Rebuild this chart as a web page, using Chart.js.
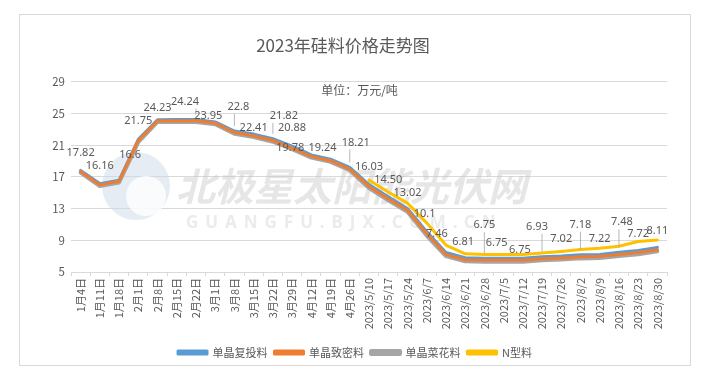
<!DOCTYPE html>
<html><head><meta charset="utf-8">
<script src="https://cdn.jsdelivr.net/npm/chart.js@4.4.0/dist/chart.umd.min.js"></script>
<style>
html,body{margin:0;padding:0;background:#fff;}
#wrap{position:relative;width:719px;height:381px;overflow:hidden;}
#frame{position:absolute;left:19px;top:14px;width:670px;height:350px;border:1px solid #d9d9d9;}
canvas{position:absolute;left:0;top:0;}
</style></head><body>
<div id="wrap"><div id="frame"></div><canvas id="c" width="719" height="381"></canvas></div>
<script>
// ---- data ----
const categories = ['1月4日','1月11日','1月18日','2月1日','2月8日','2月15日','2月22日','3月1日','3月8日','3月15日','3月22日','3月29日','4月12日','4月19日','4月26日','2023/5/10','2023/5/17','2023/5/24','2023/6/7','2023/6/14','2023/6/21','2023/6/28','2023/7/5','2023/7/12','2023/7/19','2023/7/26','2023/8/2','2023/8/9','2023/8/16','2023/8/23','2023/8/30'];
const fuTou  = [17.82,16.16,16.6,21.75,24.23,24.25,24.24,23.95,22.8,22.41,21.82,20.88,19.78,19.24,18.21,16.03,14.50,13.02,10.1,7.46,6.81,6.75,6.75,6.75,6.93,7.02,7.18,7.22,7.48,7.72,8.11];
const zhiMi  = [17.7,16.0,16.45,21.6,24.1,24.1,24.1,23.8,22.6,22.2,21.6,20.65,19.6,19.05,18.0,15.8,14.25,12.8,9.85,7.2,6.55,6.5,6.5,6.5,6.68,6.78,6.93,6.98,7.22,7.45,7.82];
const caiHua = [17.55,15.85,16.3,21.4,23.95,23.95,23.95,23.65,22.45,22.05,21.45,20.5,19.45,18.9,17.85,15.6,14.05,12.6,9.6,7.0,6.35,6.3,6.3,6.3,6.48,6.58,6.72,6.78,7.02,7.25,7.62];
const nType  = [null,null,null,null,null,null,null,null,null,null,null,null,null,null,null,16.6,15.1,13.7,11.2,8.4,7.3,7.2,7.2,7.2,7.4,7.6,7.85,8.0,8.25,8.85,9.05];
const fuTouLabels = ['17.82','16.16','16.6','21.75','24.23',null,'24.24','23.95','22.8','22.41','21.82','20.88','19.78','19.24','18.21','16.03','14.50','13.02','10.1','7.46','6.81','6.75','6.75','6.75','6.93','7.02','7.18','7.22','7.48','7.72','8.11'];
const seriesNames = ['单晶复投料','单晶致密料','单晶菜花料','N型料'];
const yMin = 5, yMax = 29, yStep = 2;
const titleText = '2023年硅料价格走势图';
const unitText = '单位：万元/吨';

// ---- label placement (offsets from point, px) ----
const labelOffsets = [[0,-18],[0,-18],[11,-25],[0,-18],[0,-12],null,[-11,-18],[-7,-6],[4,-24],[0,-6],[11,-23],[0,-18],[-21,-7],[-8,-11],[6,-25],[0,-18],[0,-17],[0,-16],[-2,-18],[-9,-19],[-2,-16],[0,-33],[-7,-15],[-3,-8],[-5,-30],[0,-17],[0,-30],[0,-16],[3,-30],[0,-17],[0,-17]];
const leaderIdx = [6,8,10,14,21,24,26,28];

const TXT = '#595959';
const FONT = "'Noto Sans CJK SC','Noto Sans',sans-serif";

const watermark = {
  id:'watermark',
  beforeDatasetsDraw(chart){
    const ctx = chart.ctx; ctx.save();
    ctx.fillStyle = 'rgba(205,218,232,0.5)';
    ctx.beginPath(); ctx.arc(136,186,34,0,Math.PI*2); ctx.fill();
    ctx.fillStyle = 'rgba(255,255,255,0.8)';
    ctx.beginPath(); ctx.arc(146,196,20,0,Math.PI*2); ctx.fill();
    ctx.fillStyle = 'rgba(200,200,200,0.45)';
    ctx.font = "italic bold 39px 'Noto Sans CJK SC'";
    ctx.textBaseline = 'middle'; ctx.textAlign = 'left';
    ctx.fillText('北极星太阳能光伏网', 176, 186);
    ctx.fillStyle = 'rgba(210,210,210,0.45)';
    ctx.font = "bold 17px 'Noto Sans'";
    try { ctx.letterSpacing = '7px'; } catch(e){}
    ctx.fillText('GUANGFU.BJX.COM.CN', 186, 223);
    ctx.restore();
  }
};

const legendShift = {
  id:'legendShift',
  afterLayout(chart){
    const lg = chart.legend;
    if(lg){ lg.left += 12; lg.right += 12; }
  }
};

const dataLabels = {
  id:'dataLabels',
  afterDatasetsDraw(chart){
    const ctx = chart.ctx; ctx.save();
    const meta = chart.getDatasetMeta(0);
    ctx.font = "11px 'Noto Sans'";
    ctx.textAlign = 'center'; ctx.textBaseline = 'middle';
    meta.data.forEach((pt,i)=>{
      const t = fuTouLabels[i]; const off = labelOffsets[i];
      if(!t || !off) return;
      const lx = pt.x + off[0], ly = pt.y + off[1];
      if(leaderIdx.includes(i)){
        const w = ctx.measureText(t).width;
        const x0 = Math.min(Math.max(pt.x, lx - w/2 + 2), lx + w/2 - 2);
        ctx.strokeStyle = '#a6a6a6'; ctx.lineWidth = 0.8;
        ctx.beginPath(); ctx.moveTo(x0, ly + 7); ctx.lineTo(pt.x, pt.y - 5); ctx.stroke();
      }
      ctx.fillStyle = TXT;
      ctx.fillText(t, lx, ly);
    });
    ctx.font = "12px 'Noto Sans CJK SC'";
    ctx.fillStyle = TXT;
    ctx.fillText(unitText, chart.width/2, chart.chartArea.top + 9);
    ctx.restore();
  }
};

new Chart(document.getElementById('c'), {
  type:'line',
  data:{
    labels: categories,
    datasets:[
      {label:seriesNames[0], data:fuTou, borderColor:'#5b9bd5', backgroundColor:'#5b9bd5', borderWidth:3, order:2},
      {label:seriesNames[1], data:zhiMi, borderColor:'#ed7d31', backgroundColor:'#ed7d31', borderWidth:3, order:1},
      {label:seriesNames[2], data:caiHua, borderColor:'#a5a5a5', backgroundColor:'#a5a5a5', borderWidth:4, order:3},
      {label:seriesNames[3], data:nType, borderColor:'#ffc000', backgroundColor:'#ffc000', borderWidth:3, order:0}
    ]
  },
  options:{
    responsive:false, animation:false, devicePixelRatio:1,
    elements:{point:{radius:0,hoverRadius:0}, line:{tension:0, borderCapStyle:'round', borderJoinStyle:'round'}},
    layout:{padding:{left:19, right:52, top:14, bottom:13}},
    plugins:{
      title:{display:true, text:titleText, color:TXT, font:{family:FONT, size:17, weight:'normal'}, padding:{top:21, bottom:26.5}},
      legend:{position:'bottom', labels:{color:TXT, font:{family:FONT, size:11}, boxWidth:29, boxHeight:3, padding:7,
        sort:(a,b)=>a.datasetIndex-b.datasetIndex}},
      tooltip:{enabled:false}
    },
    scales:{
      x:{
        offset:true,
        grid:{drawOnChartArea:false, drawTicks:true, tickLength:4, color:'#d9d9d9', offset:true},
        border:{color:'#d9d9d9'},
        ticks:{autoSkip:false, minRotation:90, maxRotation:90, color:TXT, font:{family:FONT, size:11}, padding:2},
        afterFit(s){ s.height = 68; }
      },
      y:{
        min:yMin, max:yMax,
        ticks:{stepSize:yStep, color:TXT, font:{family:FONT, size:11.5}, padding:6},
        grid:{color:'#d9d9d9', drawTicks:false},
        border:{display:false},
        afterFit(s){ s.width = 52; }
      }
    }
  },
  plugins:[watermark, legendShift, dataLabels]
});
</script>
</body></html>
